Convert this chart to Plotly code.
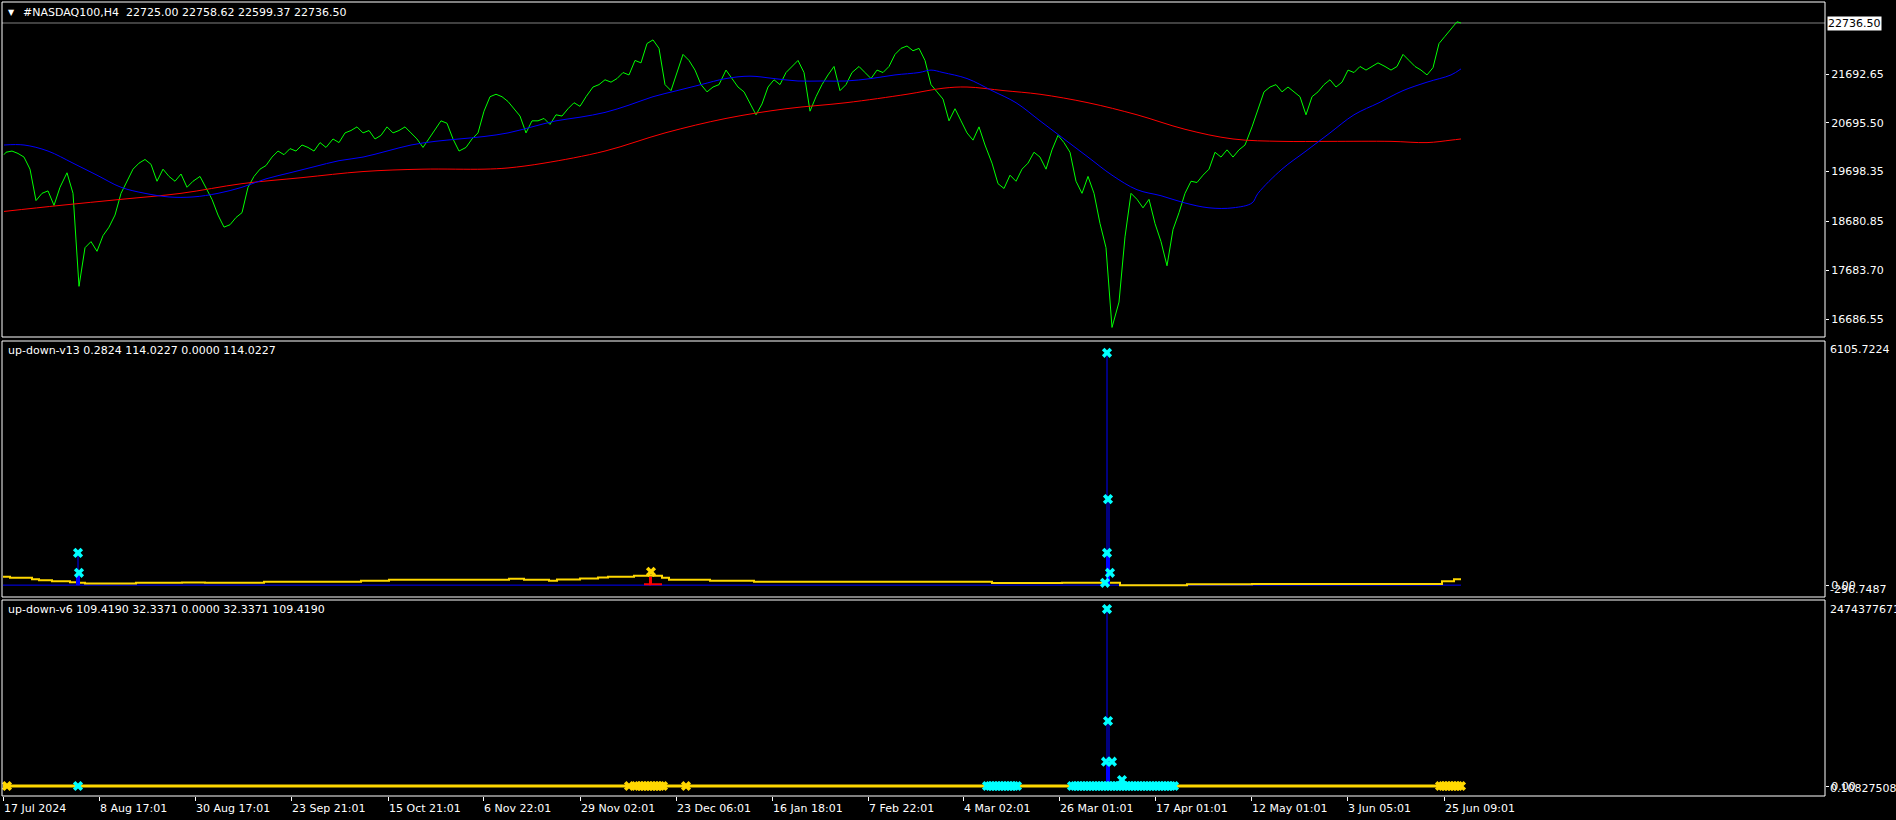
import plotly.graph_objects as go

W, H = 1896, 820
FONT = "DejaVu Sans"

# ---------------- data ----------------
symbol_header = "#NASDAQ100,H4\u00a0\u00a022725.00 22758.62 22599.37 22736.50"
v13_header = "up-down-v13 0.2824 114.0227 0.0000 114.0227"
v6_header = "up-down-v6 109.4190 32.3371 0.0000 32.3371 109.4190"
last_close = 22736.50

price_bars = [2, 4, 10, 16, 22, 28, 34, 40, 46, 52, 58,
              65, 71, 77, 83, 89, 95, 101, 107, 113, 119, 125, 131, 137, 143, 149, 155, 161, 167, 173, 179, 185, 191,
              198, 204, 210, 216, 222, 228, 234, 240, 246, 252, 258, 264, 270, 276, 282, 288, 294, 300, 306, 312, 318, 324,
              331, 337, 343, 349, 355, 361, 367, 373, 379, 385, 391, 397, 403, 409, 415, 421, 427, 433, 439, 445, 451, 457,
              464, 470, 476, 482, 488, 494, 500, 506, 512, 518, 524, 530, 536, 542, 548, 554, 560, 566, 572, 578, 584,
              591, 597, 603, 609, 615, 621, 627, 633, 639, 645, 651, 657, 663, 669, 675, 681, 687, 693, 699, 705, 711, 717,
              724, 730, 736, 742, 748, 754, 760, 766, 772, 778, 784, 790, 796, 802, 808, 814, 820, 826, 832, 838, 844, 850,
              857, 863, 869, 875, 881, 887, 893, 899, 905, 911, 917, 923, 929, 935, 941, 947, 953, 959, 965, 971, 977, 983,
              990, 996, 1002, 1008, 1014, 1020, 1026, 1032, 1038, 1044, 1050, 1056, 1062, 1068, 1074, 1080, 1086, 1092, 1098, 1104, 1110,
              1117, 1123, 1129, 1135, 1141, 1147, 1153, 1159, 1165, 1171, 1177, 1183, 1189, 1195, 1201, 1207, 1213, 1219, 1225, 1231, 1237, 1243,
              1250, 1256, 1262, 1268, 1274, 1280, 1286, 1292, 1298, 1304, 1310, 1316, 1322, 1328, 1334, 1340, 1346, 1352, 1358, 1364, 1370, 1376,
              1383, 1389, 1395, 1401, 1407, 1413, 1419, 1425, 1431, 1437, 1443, 1449, 1455, 1459]

price_close = [20045, 20095, 20119, 20070, 19996, 19749, 19107, 19255, 19305, 19008, 19379,
               19675, 19255, 17354, 18144, 18268, 18070, 18391, 18564, 18811, 19255, 19502, 19749, 19872, 19947, 19848, 19502, 19749, 19601, 19502, 19650, 19379, 19502,
               19601, 19379, 19132, 18811, 18564, 18613, 18761, 18860, 19379, 19601, 19749, 19823, 19996, 20119, 20045, 20169, 20119, 20243, 20193, 20119,
               20292, 20193, 20366, 20292, 20490, 20539, 20613, 20490, 20539, 20366, 20440, 20613, 20490, 20539, 20613, 20490, 20366, 20193, 20366, 20539,
               20737, 20687, 20366, 20119, 20193, 20366, 20490, 20934, 21230, 21280, 21230, 21132, 20984, 20835, 20490, 20737, 20737, 20786, 20663,
               20860, 20835, 20984, 21107, 21033, 21230, 21428, 21477, 21576, 21527, 21601, 21724, 21675, 21971, 21922, 22317, 22391, 22218, 21477, 21354, 21724, 22095,
               21971, 21774, 21477, 21329, 21428, 21477, 21774, 21601, 21428, 21329, 21107, 20860, 21082, 21428, 21576, 21477, 21724, 21848, 21971, 21724, 20934, 21230,
               21477, 21675, 21848, 21354, 21477, 21724, 21848, 21724, 21601, 21774, 21724, 21848, 22095, 22218, 22267, 22169, 22218, 21971, 21477, 21329, 21181, 20737,
               20984, 20737, 20490, 20342, 20613, 20243, 19872, 19453, 19354, 19626, 19502, 19749, 19872, 20095, 19996, 19749, 20144, 20440, 20292, 20095, 19502,
               19255, 19601, 19255, 18638, 18144, 16514, 17033, 18366, 19255, 19132, 18959, 19132, 18638, 18268, 17774, 18515, 18860, 19255, 19502, 19477, 19626, 19749,
               20095, 19996, 20144, 19996, 20144, 20243, 20613, 20984, 21329, 21428, 21477, 21329, 21428, 21329, 21230, 20860, 21230, 21329, 21477, 21576, 21428, 21527,
               21774, 21724, 21848, 21774, 21848, 21922, 21848, 21774, 21848, 22095, 21971, 21848, 21774, 21675, 21823, 22317, 22465, 22613, 22761, 22736.5]

ma_blue_bars = [2, 22, 46, 71, 95, 119, 143, 167, 191, 216, 240, 264, 288, 312, 337, 361, 385, 409, 433, 457, 482, 506, 530, 554,
                578, 603, 627, 651, 675, 699, 724, 748, 772, 796, 820, 844, 869, 893, 917, 929, 941, 965, 990, 1014, 1038, 1062,
                1086, 1110, 1135, 1159, 1183, 1207, 1231, 1250, 1256, 1280, 1304, 1328, 1352, 1377, 1401, 1425, 1449, 1459]
ma_blue_vals = [20243, 20243, 20119, 19872, 19626, 19379, 19255, 19181, 19181, 19255, 19379, 19551, 19675, 19798, 19922, 19996,
                20119, 20243, 20317, 20366, 20416, 20490, 20613, 20737, 20811, 20909, 21058, 21230, 21354, 21477, 21601, 21650,
                21601, 21551, 21551, 21551, 21601, 21675, 21724, 21774, 21724, 21601, 21354, 21107, 20737, 20366, 19996, 19626,
                19329, 19206, 19058, 18959, 18959, 19058, 19255, 19749, 20119, 20490, 20860, 21107, 21354, 21527, 21675, 21798]

ma_red_bars = [2, 58, 119, 179, 240, 300, 361, 421, 482, 506, 542, 603, 663, 724, 784, 844, 905, 941, 965, 1002, 1038,
               1086, 1135, 1183, 1231, 1280, 1328, 1389, 1425, 1449, 1459]
ma_red_vals = [18885, 19008, 19132, 19255, 19453, 19576, 19700, 19749, 19749, 19774, 19872, 20119, 20490, 20786, 20984,
               21107, 21280, 21403, 21428, 21354, 21280, 21107, 20860, 20564, 20366, 20317, 20317, 20317, 20292, 20342, 20366]

tick_bars = [1, 97, 193, 289, 386, 481, 578, 674, 770, 866, 961, 1057, 1153, 1249, 1345, 1442]
tick_labels = ["17 Jul 2024", "8 Aug 17:01", "30 Aug 17:01", "23 Sep 21:01", "15 Oct 21:01", "6 Nov 22:01",
               "29 Nov 02:01", "23 Dec 06:01", "16 Jan 18:01", "7 Feb 22:01", "4 Mar 02:01", "26 Mar 01:01",
               "17 Apr 01:01", "12 May 01:01", "3 Jun 05:01", "25 Jun 09:01"]
price_ticks = [21692.65, 20695.50, 19698.35, 18680.85, 17683.70, 16686.55]

# up-down-v13 (middle window)
v13_max, v13_min = 6105.7224, -296.7487
v13_line_bars = [1, 8, 30, 37, 50, 68, 76, 83, 134, 180, 203, 262, 359, 387, 507, 522, 547, 555, 578, 596, 606,
                 632, 660, 667, 708, 752, 800, 990, 1060, 1118, 1185, 1250, 1440, 1452, 1459]
v13_line_vals = [208, 183, 150, 125, 100, 75, 58, 42, 58, 67, 58, 83, 108, 133, 158, 133, 108, 142, 167, 192, 208,
                 233, 183, 133, 108, 83, 85, 55, 58, 0, 25, 30, 100, 145, 145]
v13_base_bars = [1, 1459]
v13_base_vals = [0, 0]
v13_thin_bars = [76, 1105, 1107]
v13_thin_vals = [808, 5810, 2151]
v13_thick_bars = [76, 1106]
v13_thick_vals = [308, 808]
v13_red_bars = [643, 645, 647, 648, 649, 651, 653, 655, 657, 659]
v13_red_vals = [45, 45, 45, 208, 208, 45, 45, 45, 45, 45]
v13_cyan_bars = [76, 77, 1105, 1106, 1105, 1108, 1103]
v13_cyan_vals = [808, 308, 5810, 2151, 808, 308, 58]
v13_yellow_bars = [649]
v13_yellow_vals = [333]

# up-down-v6 (bottom window)
v6_max, v6_min = 2474377671, -133031057
v6_line_bars = [1, 1459]
v6_line_vals = [0, 0]
v6_thin_bars = [1105, 1107]
v6_thin_vals = [2354000000, 865000000]
v6_thick_bars = [1106]
v6_thick_vals = [300000000]
v6_cyan_bars = [1105, 1106, 1104, 1110, 1120,
                76, 985, 988, 991, 994, 997, 1000, 1003, 1006, 1009, 1012, 1015,
                1070, 1073, 1076, 1079, 1082, 1085, 1088, 1091, 1094, 1097, 1100, 1103, 1106, 1109, 1112, 1115,
                1118, 1121, 1124, 1127, 1130, 1133, 1136, 1139, 1142, 1145, 1148, 1151, 1154, 1157, 1160, 1163,
                1166, 1169, 1172]
v6_cyan_vals = [2354000000, 865000000, 323000000, 323000000, 80000000] + [0] * 47
v6_yellow_bars = [5, 627, 634, 637, 640, 643, 646, 649, 652, 655, 658, 661, 684,
                  1438, 1441, 1444, 1447, 1450, 1453, 1456, 1459]
v6_yellow_vals = [0] * 21

# ---------------- helpers ----------------
def px(x):
    return x / W


def py(y):
    return 1 - y / H


def stems(bars, vals):
    xs, ys = [], []
    for b, v in zip(bars, vals):
        xs += [b, b, None]
        ys += [0, v, None]
    return xs, ys


GREEN, BLUE, RED, YEL, CYAN = "#00FF00", "#0000FF", "#FF0000", "#FFD700", "#00FFFF"

fig = go.Figure()

# top window
fig.add_trace(go.Scatter(x=price_bars, y=price_close, mode="lines", line=dict(color=GREEN, width=1), yaxis="y"))
fig.add_trace(go.Scatter(x=ma_red_bars, y=ma_red_vals, mode="lines", line=dict(color=RED, width=1, shape="spline"), yaxis="y"))
fig.add_trace(go.Scatter(x=ma_blue_bars, y=ma_blue_vals, mode="lines", line=dict(color=BLUE, width=1, shape="spline"), yaxis="y"))

# middle window
fig.add_trace(go.Scatter(x=v13_base_bars, y=v13_base_vals, mode="lines", line=dict(color=BLUE, width=1), yaxis="y2"))
fig.add_trace(go.Scatter(x=v13_line_bars, y=v13_line_vals, mode="lines", line=dict(color=YEL, width=2, shape="hv"), yaxis="y2"))
sx, sy = stems(v13_red_bars, v13_red_vals)
fig.add_trace(go.Scatter(x=sx, y=sy, mode="lines", line=dict(color=RED, width=2), yaxis="y2"))
sx, sy = stems(v13_thin_bars, v13_thin_vals)
fig.add_trace(go.Scatter(x=sx, y=sy, mode="lines", line=dict(color=BLUE, width=1), yaxis="y2"))
sx, sy = stems(v13_thick_bars, v13_thick_vals)
fig.add_trace(go.Scatter(x=sx, y=sy, mode="lines", line=dict(color=BLUE, width=4), yaxis="y2"))
fig.add_trace(go.Scatter(x=v13_yellow_bars, y=v13_yellow_vals, mode="markers",
                         marker=dict(symbol="x", size=9, color=YEL, line=dict(width=0)), yaxis="y2"))
fig.add_trace(go.Scatter(x=v13_cyan_bars, y=v13_cyan_vals, mode="markers",
                         marker=dict(symbol="x", size=9, color=CYAN, line=dict(width=0)), yaxis="y2"))

# bottom window
fig.add_trace(go.Scatter(x=v6_line_bars, y=v6_line_vals, mode="lines", line=dict(color=YEL, width=3), yaxis="y3"))
sx, sy = stems(v6_thin_bars, v6_thin_vals)
fig.add_trace(go.Scatter(x=sx, y=sy, mode="lines", line=dict(color=BLUE, width=1), yaxis="y3"))
sx, sy = stems(v6_thick_bars, v6_thick_vals)
fig.add_trace(go.Scatter(x=sx, y=sy, mode="lines", line=dict(color=BLUE, width=4), yaxis="y3"))
fig.add_trace(go.Scatter(x=v6_yellow_bars, y=v6_yellow_vals, mode="markers",
                         marker=dict(symbol="x", size=9, color=YEL, line=dict(width=0)), yaxis="y3"))
fig.add_trace(go.Scatter(x=v6_cyan_bars, y=v6_cyan_vals, mode="markers",
                         marker=dict(symbol="x", size=9, color=CYAN, line=dict(width=0)), yaxis="y3"))

tickfont = dict(family=FONT, size=11, color="white")
yax_common = dict(side="right", anchor="x", showgrid=False, zeroline=False, showline=False,
                  ticks="outside", ticklen=3, tickcolor="white", tickfont=tickfont, fixedrange=True)

fig.update_layout(
    width=W, height=H, margin=dict(l=0, r=0, t=0, b=0),
    paper_bgcolor="black", plot_bgcolor="black", showlegend=False, hovermode=False,
    xaxis=dict(domain=[px(2), px(1825)], range=[0, 1823], anchor="y3", showgrid=False, zeroline=False,
               showline=False, ticks="outside", ticklen=4, tickcolor="white", tickvals=tick_bars,
               showticklabels=False, fixedrange=True),
    yaxis=dict(domain=[py(337), py(2)], range=[16318.6, 23165.7], tickvals=price_ticks,
               ticktext=[f"{v:.2f}" for v in price_ticks], **yax_common),
    yaxis2=dict(domain=[py(597), py(341)], range=[v13_min, v13_max], tickvals=[0], ticktext=["0.00"], **yax_common),
    yaxis3=dict(domain=[py(796), py(600)], range=[v6_min, v6_max], tickvals=[0], ticktext=["0.00"], **yax_common),
)

shapes = []
for (t, b) in [(2, 337), (341, 597), (600, 796)]:
    shapes.append(dict(type="rect", xref="paper", yref="paper", x0=px(2), x1=px(1825), y0=py(b), y1=py(t),
                       line=dict(color="white", width=1), layer="above"))
shapes.append(dict(type="line", xref="paper", yref="y", x0=px(2), x1=px(1825), y0=last_close, y1=last_close,
                   line=dict(color="#808080", width=1), layer="below"))
fig.update_layout(shapes=shapes)

ann = []
ann.append(dict(text="\u25BC", x=px(11), y=py(12), xref="paper", yref="paper", showarrow=False,
                font=dict(family=FONT, size=8, color="white"), xanchor="center", yanchor="middle"))
ann.append(dict(text=symbol_header, x=px(21), y=py(12), xref="paper", yref="paper", showarrow=False,
                font=tickfont, xanchor="left", yanchor="middle"))
ann.append(dict(text=v13_header, x=px(6), y=py(351), xref="paper", yref="paper", showarrow=False,
                font=tickfont, xanchor="left", yanchor="middle"))
ann.append(dict(text=v6_header, x=px(6), y=py(609), xref="paper", yref="paper", showarrow=False,
                font=tickfont, xanchor="left", yanchor="middle"))
ann.append(dict(text=f"{last_close:.2f}", x=px(1827), y=last_close, xref="paper", yref="y", showarrow=False,
                font=dict(family=FONT, size=11, color="black"), bgcolor="white", borderpad=0,
                xanchor="left", yanchor="middle"))
ann.append(dict(text=f"{v13_max:.4f}", x=px(1828), y=py(350), xref="paper", yref="paper", showarrow=False,
                font=tickfont, xanchor="left", yanchor="middle"))
ann.append(dict(text=f"{v13_min:.4f}", x=px(1828), y=py(589), xref="paper", yref="paper", showarrow=False,
                font=tickfont, xanchor="left", yanchor="middle"))
ann.append(dict(text=f"{v6_max}", x=px(1828), y=py(609), xref="paper", yref="paper", showarrow=False,
                font=tickfont, xanchor="left", yanchor="middle"))
ann.append(dict(text="0.10827508", x=px(1828), y=py(788), xref="paper", yref="paper", showarrow=False,
                font=tickfont, xanchor="left", yanchor="middle"))
for b, lab in zip(tick_bars, tick_labels):
    ann.append(dict(text=lab, x=b, y=py(808), xref="x", yref="paper", showarrow=False, font=tickfont,
                    xanchor="left", yanchor="middle", xshift=-1))
fig.update_layout(annotations=ann)

fig.write_html("out.html", config={"displayModeBar": False},
               post_script="document.body.style.margin='0';document.body.style.padding='0';"
                           "document.body.style.overflow='hidden';")
